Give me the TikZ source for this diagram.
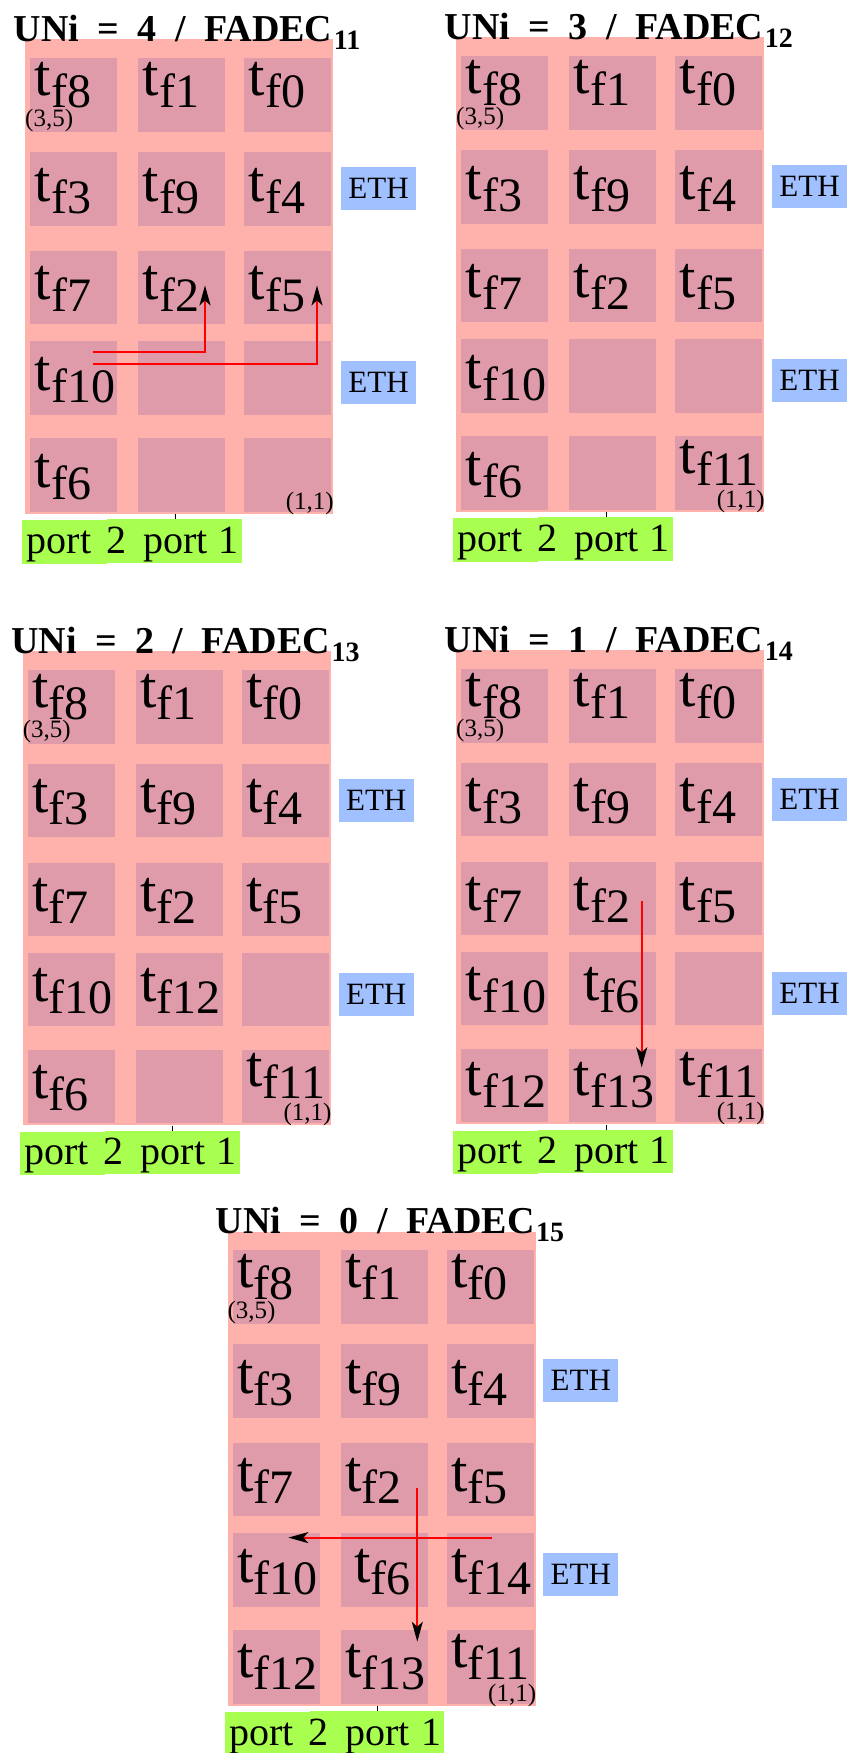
\documentclass[tikz,border=0pt]{standalone}
\usepackage{fontspec}
\setmainfont{Liberation Serif}
\usetikzlibrary{arrows.meta}
\definecolor{framepink}{RGB}{255,178,172}
\definecolor{cellpink}{RGB}{224,155,170}
\definecolor{ethblue}{RGB}{160,192,255}
\definecolor{portgreen}{RGB}{168,255,80}
\newcommand\tlab[1]{\fontsize{59pt}{59pt}\selectfont t\raisebox{-12pt}{\fontsize{48pt}{48pt}\selectfont f#1}}
\tikzset{
  framest/.style={fill=framepink, inner sep=0, minimum width=308pt, minimum height=474pt, anchor=north west},
  cellst/.style={fill=cellpink, inner sep=0, minimum width=87pt, minimum height=73.4pt, anchor=north west},
  ethst/.style={fill=ethblue, inner sep=0, minimum width=75pt, minimum height=43pt, font=\fontsize{31pt}{31pt}\selectfont},
  portbox/.style={fill=portgreen, inner sep=0, anchor=north west, minimum height=43.3pt},
  porttext/.style={anchor=base west, inner sep=0, font=\fontsize{40pt}{40pt}\selectfont},
  titlest/.style={anchor=base west, inner sep=0, font=\bfseries\fontsize{38pt}{38pt}\selectfont},
  tlabel/.style={anchor=base west, inner sep=0, text height=36pt, text depth=12.5pt},
  smalllab/.style={inner sep=0, text height=17pt, text depth=5pt, font=\fontsize{25pt}{25pt}\selectfont},
  redarrow/.style={draw=red, line width=2pt, -{Stealth[length=20pt,width=11pt,inset=5pt,color=black]}},
  tickst/.style={draw=black, line width=1pt}
}
\newcommand\panel[5]{%
  \begin{scope}[shift={(#2,#3)}]
    \node[framest] (#1frame) at (25,39.3) {};
    \foreach \r/\yy in {1/58.2,2/152,3/250.8,4/341,5/438}{
      \foreach \c/\xx in {1/30,2/138,3/244}{
        \node[cellst] (#1c\r\c) at (\xx,\yy) {};
      }}
    \node[ethst] (#1etha) at (378.5,188.5) {ETH};
    \node[ethst] (#1ethb) at (378.5,382.5) {ETH};
    \node[portbox, minimum width=85pt] (#1portb) at (22,520) {};
    \node[portbox, minimum width=134.7pt] (#1porta) at (107,519) {};
    \coordinate (#1tick) at ([xshift=-4pt]#1frame.south);
    \draw[tickst] (#1tick) -- (#1tick |- #1porta.north);
    \node[porttext] (#1ports) at (26.5,553) {port\hspace{14.9pt}2\hspace{17pt}port\hspace{11.4pt}1};
    \node[titlest] (#1title) at (13.4,41.7) {UNi\hspace{18.5pt}=\hspace{18.5pt}#4\hspace{18.5pt}/\hspace{18.5pt}FADEC\hspace{1.5pt}\raisebox{-7.6pt}{\fontsize{28pt}{28pt}\selectfont #5}};
    \node[smalllab, anchor=base west] (#1labA) at (25,126) {(3,5)};
    \node[smalllab, anchor=base east] (#1labB) at (334,509) {(1,1)};
  \end{scope}}
\newcommand\clab[5][4.5]{\node[tlabel] (#2l#3) at ([xshift=#1pt,yshift=-#5pt]#2c#3.north west) {\tlab{#4}};}
\newcommand\stdlabels[1]{%
  \clab{#1}{11}{8}{37}\clab{#1}{12}{1}{37}\clab{#1}{13}{0}{37}
  \clab{#1}{21}{3}{49}\clab{#1}{22}{9}{49}\clab{#1}{23}{4}{49}
  \clab{#1}{31}{7}{49}\clab{#1}{32}{2}{49}\clab{#1}{33}{5}{49}
  \clab{#1}{41}{10}{49}}
\begin{document}
\begin{tikzpicture}[x=1pt,y=-1pt]
\useasboundingbox[fill=white] (0,0) rectangle (846,1753);
\panel{p1}{0}{0}{4}{11}
\panel{p2}{431}{-2}{3}{12}
\panel{p3}{-2.3}{611.8}{2}{13}
\panel{p4}{431}{610.8}{1}{14}
\panel{p5}{202.3}{1192}{0}{15}
% labels
\stdlabels{p1}\clab{p1}{51}{6}{49}
\stdlabels{p2}\clab{p2}{51}{6}{49}\clab{p2}{53}{11}{37}
\stdlabels{p3}\clab{p3}{42}{12}{49}\clab{p3}{51}{6}{49}\clab{p3}{53}{11}{37}
\stdlabels{p4}\clab[14]{p4}{42}{6}{49}\clab{p4}{51}{12}{47}\clab{p4}{52}{13}{47}\clab{p4}{53}{11}{37}
\stdlabels{p5}\clab[14]{p5}{42}{6}{49}\clab{p5}{43}{14}{49}\clab{p5}{51}{12}{47}\clab{p5}{52}{13}{47}\clab{p5}{53}{11}{37}
% arrows
\begin{scope}
  \coordinate (p1as) at (93,351.9);
  \coordinate (p1ae) at (205,285.4);
  \coordinate (p1bs) at (93,364.2);
  \coordinate (p1be) at (317,285.4);
  \draw[redarrow] (p1as) -| (p1ae);
  \draw[redarrow] (p1bs) -| (p1be);
\end{scope}
\begin{scope}[shift={(431,610.8)}]
  \coordinate (p4as) at (210.7,290);
  \coordinate (p4ae) at (210.7,456.5);
  \draw[redarrow] (p4as) -- (p4ae);
\end{scope}
\begin{scope}[shift={(202.3,1192)}]
  \coordinate (p5as) at (215,296);
  \coordinate (p5ae) at (215,449.7);
  \coordinate (p5bs) at (289.4,345.6);
  \coordinate (p5be) at (86,345.6);
  \draw[redarrow] (p5as) -- (p5ae);
  \draw[redarrow] (p5bs) -- (p5be);
\end{scope}
\end{tikzpicture}
\end{document}
